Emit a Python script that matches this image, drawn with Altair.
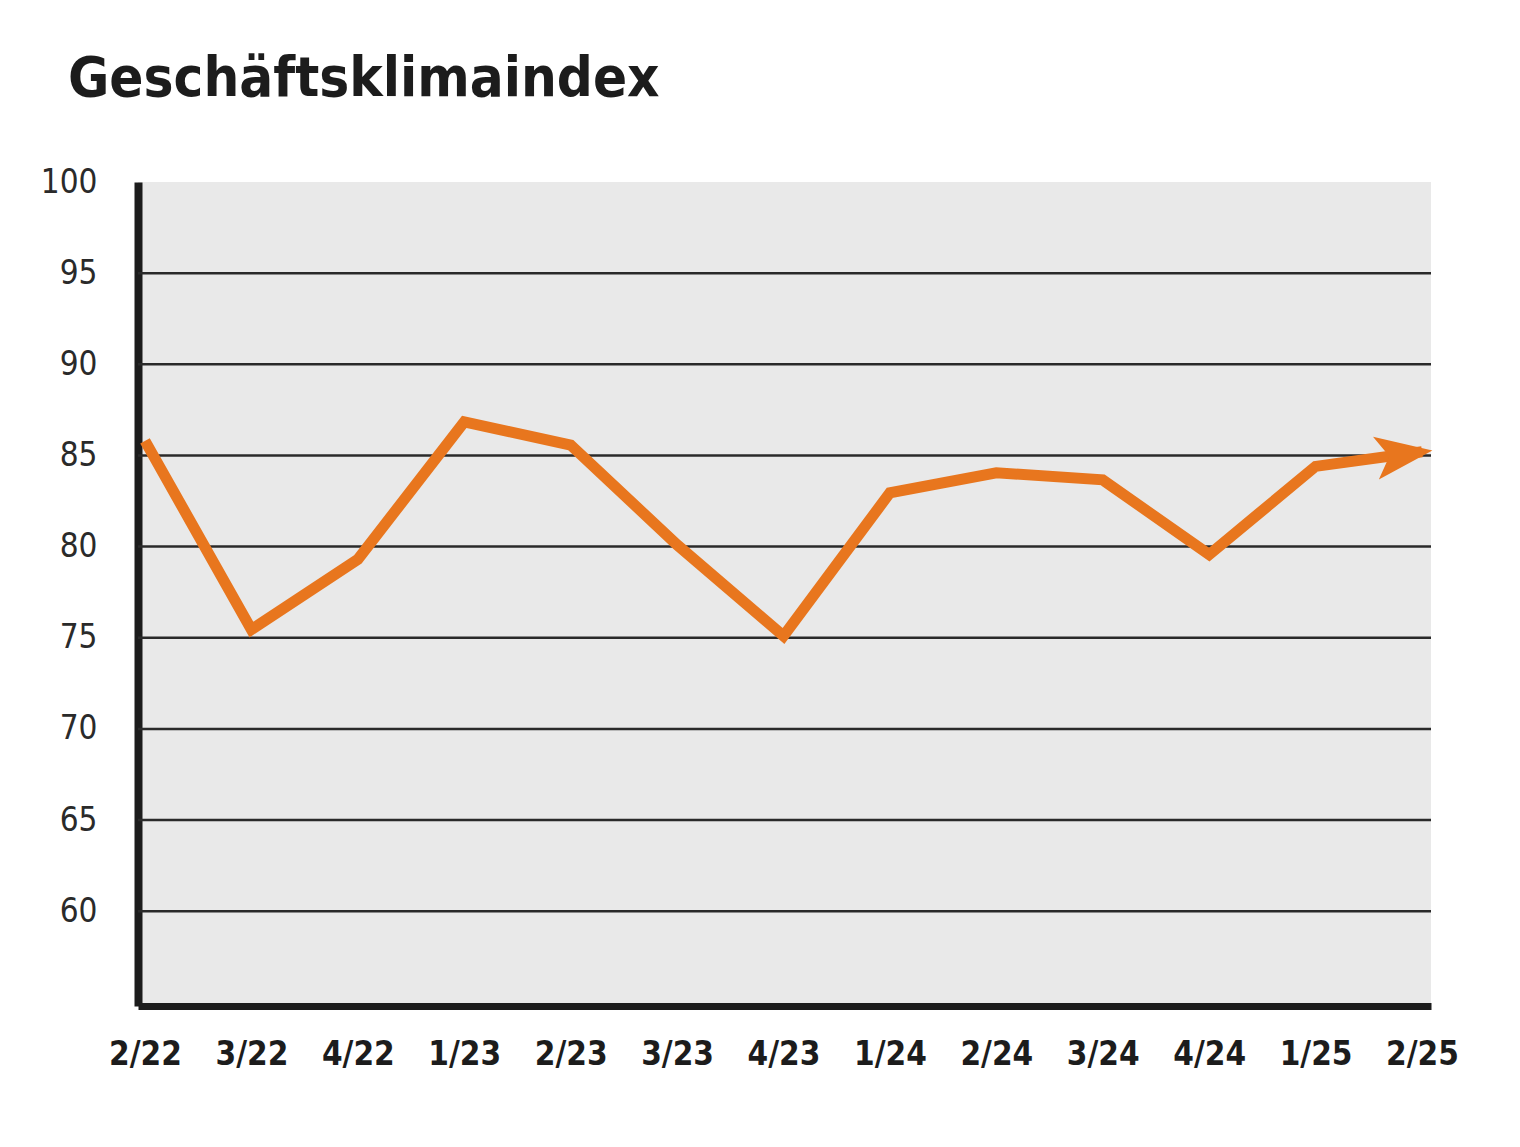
import altair as alt
import pandas as pd

quarters = ["2/22", "3/22", "4/22", "1/23", "2/23", "3/23", "4/23",
            "1/24", "2/24", "3/24", "4/24", "1/25", "2/25"]
index_values = [85.8, 75.45, 79.3, 86.84, 85.57, 80.1, 75.1,
                82.95, 84.05, 83.66, 79.56, 84.4, 85.2]
grid_values = [60, 65, 70, 75, 80, 85, 90, 95]
y_tick_values = [60, 65, 70, 75, 80, 85, 90, 95, 100]

df = pd.DataFrame({"i": list(range(len(quarters))), "q": quarters, "v": index_values})
grid_df = pd.DataFrame({"g": grid_values})
last_df = df.tail(1)

FONT = "'Liberation Sans Narrow', 'DejaVu Sans Condensed', 'Arial Narrow', sans-serif"
ORANGE = "#E8761E"
DARK = "#1c1c1c"

label_expr = "[" + ",".join(f"'{q}'" for q in quarters) + "][datum.value]"

xscale = alt.Scale(domain=[-0.0658, 12.0846], nice=False, zero=False)
yscale = alt.Scale(domain=[54.8, 100], nice=False, zero=False)

grid = alt.Chart(grid_df).mark_rule(color="#2a2a2a", strokeWidth=2.5).encode(
    y=alt.Y("g:Q", scale=yscale, title=None)
)

line = alt.Chart(df).mark_line(
    color=ORANGE, strokeWidth=11, strokeJoin="miter", strokeCap="butt"
).encode(
    x=alt.X("i:Q", scale=xscale, title=None,
            axis=alt.Axis(values=list(range(len(quarters))), labelExpr=label_expr,
                          grid=False, ticks=False, domain=True, domainWidth=7,
                          domainColor=DARK, labelFont=FONT, labelFontSize=33,
                          labelFontWeight="bold", labelColor=DARK, labelPadding=32,
                          labelFlush=False, labelOverlap=False, labelBound=False)),
    y=alt.Y("v:Q", scale=yscale, title=None,
            axis=alt.Axis(values=y_tick_values, grid=False, ticks=False, domain=True,
                          domainWidth=8, domainColor=DARK, labelFont=FONT,
                          labelFontSize=33, labelColor="#2a2a2a", labelPadding=41,
                          labelOverlap=False, labelFlush=False, labelBound=False)),
)

arrow = alt.Chart(last_df).mark_point(
    shape="M0.35,0 L-1.55,-0.72 L-1.1,0 L-1.55,0.72 Z",
    filled=True, size=3600, color=ORANGE, opacity=1, strokeWidth=0, angle=352.2
).encode(
    x=alt.X("i:Q", scale=xscale, title=None),
    y=alt.Y("v:Q", scale=yscale, title=None),
)

chart = alt.layer(grid, line, arrow).properties(
    width=1293,
    height=824,
    background="white",
    autosize=alt.AutoSizeParams(type="none"),
    padding={"left": 130, "top": 174, "right": 60, "bottom": 110},
    title=alt.TitleParams(
        "Geschäftsklimaindex", anchor="start", frame="group", dx=-70, offset=58,
        font=FONT, fontSize=56, fontWeight="bold", color=DARK
    ),
).configure_view(fill="#e9e9e9", stroke=None)

chart.save("out.html", embed_options={"renderer": "svg", "actions": False})
